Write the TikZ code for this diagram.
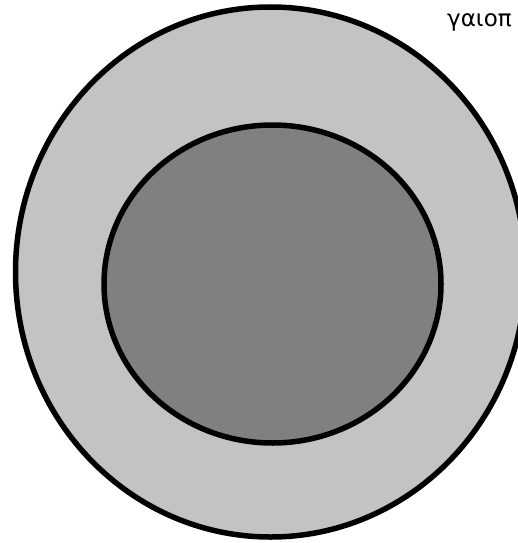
\documentclass[tikz,border=0pt]{standalone}
\usepackage{fontspec}
\newfontfamily\labelfont{DejaVu Sans}
\definecolor{outergray}{RGB}{195,195,195}
\definecolor{innergray}{RGB}{128,128,128}
\tikzset{
  ring/.style={draw=black, line width=5.5pt},
  labeltext/.style={font=\labelfont\fontsize{23}{26}\selectfont, inner sep=0pt, anchor=base west}
}
\begin{document}
\begin{tikzpicture}[x=1pt,y=-1pt]
\useasboundingbox (0,0) rectangle (518,543);
\begin{scope}
\clip (0,0) rectangle (518,543);
\path[ring, fill=outergray] (270.5,272) ellipse [x radius=255, y radius=265];
\path[ring, fill=innergray] (272.5,284) ellipse [x radius=168.5, y radius=159];
\end{scope}
\node[labeltext] (lbl) at (447,27) {γαιοπ};
\end{tikzpicture}
\end{document}
